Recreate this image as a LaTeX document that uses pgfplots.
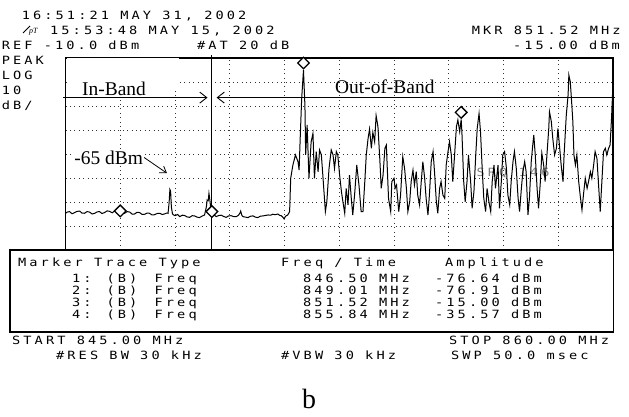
\documentclass[border=0pt]{standalone}
\usepackage{pgfplots}
\pgfplotsset{compat=1.18}
\usepackage{fontspec}
\setmainfont{Liberation Serif}
\newfontfamily\hp{DejaVu Sans Mono}[LetterSpace=27,FakeStretch=1.2]
\usetikzlibrary{arrows.meta}
\newcommand\T[3]{\node[anchor=base west,inner sep=0pt,font=\hp\fontsize{11.4}{12}\selectfont] at ({#1bp},{417bp-#2bp}) {#3};}
\begin{document}
\begin{tikzpicture}
\path[use as bounding box] (0bp,0bp) rectangle (629bp,417bp);
% header
\T{21.7}{20}{16:51:21 MAY 31, 2002}
\draw[line width=0.8bp] (23bp,384bp) -- (30bp,391bp);
\node[anchor=base west,inner sep=0pt] at (29bp,383bp) {\fontsize{8}{8}\selectfont\textit{pT}};
\T{50}{35}{15:53:48 MAY 15, 2002}
\T{1.7}{50}{REF -10.0 dBm}
\T{197}{50}{\#AT 20 dB}
\T{471.7}{35}{MKR 851.52 MHz}
\T{513}{50}{-15.00 dBm}
\T{1.7}{65}{PEAK}
\T{1.7}{80}{LOG}
\T{1.7}{95}{10}
\T{1.7}{110}{dB/}
\begin{axis}[at={(65.5bp,167bp)}, anchor=south west, width=547.5bp, height=192bp,
  scale only axis, xmin=845, xmax=860, ymin=-90, ymax=-10,
  xtick={846.5,848,849.5,851,852.5,854,855.5,857,858.5},
  ytick={-80,-70,-60,-50,-40,-30,-20},
  xticklabels={}, yticklabels={}, major tick length=0pt,
  grid=major, major grid style={black!80, line width=0.8bp, dash pattern=on 0.8bp off 3.6bp},
  axis line style={line width=1.3bp}, clip=false]
\fill[white] (axis cs:845.03,-10.1) rectangle (axis cs:848.1,-22.5);
\fill[white] (axis cs:845.03,-22.5) rectangle (axis cs:847.85,-26.2);
\node[anchor=base west,inner sep=0pt,text=black!50,font=\hp\fontsize{11.4}{12}\selectfont] at (axis cs:856.26,-59.2) {SRQ 146};
\addplot[black, line width=1bp] coordinates {
(845.00,-74.7) (845.05,-74.2) (845.11,-74.0) (845.18,-74.9) (845.25,-74.4) (845.32,-73.9)
(845.39,-73.8) (845.45,-74.6) (845.52,-74.7) (845.59,-74.0) (845.66,-74.2) (845.73,-75.0)
(845.80,-74.7) (845.87,-74.1) (845.93,-74.0) (846.00,-74.8) (846.07,-74.4) (846.14,-73.7)
(846.21,-73.9) (846.28,-74.5) (846.34,-73.8) (846.41,-73.3) (846.48,-74.0) (846.55,-74.6)
(846.62,-74.7) (846.69,-74.0) (846.76,-74.2) (846.83,-75.1) (846.89,-75.0) (846.96,-74.3)
(847.03,-74.4) (847.10,-75.2) (847.17,-75.1) (847.24,-74.6) (847.30,-74.7) (847.37,-75.4)
(847.44,-75.3) (847.51,-74.8) (847.58,-74.7) (847.65,-75.2) (847.71,-75.0) (847.77,-74.6)
(847.81,-74.7) (847.84,-70.0) (847.86,-64.8) (847.88,-65.5) (847.90,-72.0) (847.93,-74.9)
(847.96,-75.4) (848.00,-75.7) (848.07,-75.2) (848.13,-76.1) (848.20,-75.5) (848.26,-75.6)
(848.33,-76.2) (848.40,-76.4) (848.47,-75.7) (848.54,-75.8) (848.60,-76.3) (848.67,-76.5)
(848.74,-75.9) (848.81,-75.4) (848.86,-72.0) (848.88,-69.2) (848.91,-69.5) (848.93,-66.4)
(848.95,-68.5) (848.97,-71.2) (848.99,-74.0) (849.03,-75.6) (849.07,-75.4) (849.13,-76.1)
(849.20,-75.6) (849.27,-75.5) (849.33,-76.0) (849.40,-76.4) (849.47,-75.8) (849.54,-75.7)
(849.61,-76.1) (849.68,-76.1) (849.74,-75.5) (849.78,-74.6) (849.80,-73.8) (849.83,-75.5)
(849.86,-76.1) (849.93,-76.3) (850.00,-76.5) (850.07,-75.9) (850.14,-75.8) (850.20,-76.3)
(850.27,-76.5) (850.34,-75.9) (850.41,-75.8) (850.48,-75.6) (850.55,-75.4) (850.62,-75.5)
(850.68,-75.1) (850.75,-75.3) (850.82,-75.0) (850.87,-75.6) (850.91,-75.7) (850.96,-76.4)
(850.99,-77.1) (851.03,-75.9) (851.09,-75.4) (851.14,-74.0)
(851.17,-60.1) (851.23,-54.6) (851.30,-50.4) (851.37,-53.2) (851.40,-56.7) (851.43,-43.5)
(851.47,-27.0) (851.52,-15.0) (851.56,-30.0) (851.58,-50.4) (851.62,-37.9) (851.67,-60.1)
(851.73,-44.9) (851.78,-41.4) (851.82,-60.1) (851.87,-49.0) (851.92,-57.4) (851.96,-48.3)
(852.01,-50.4) (852.05,-58.8) (852.12,-74.0) (852.16,-69.9) (852.22,-56.0) (852.28,-48.3)
(852.33,-50.4) (852.37,-56.0) (852.42,-49.0) (852.46,-50.4) (852.51,-58.8) (852.56,-65.7)
(852.60,-69.9) (852.65,-74.7) (852.69,-64.3) (852.74,-71.2) (852.78,-58.8) (852.83,-68.5)
(852.87,-75.4) (852.92,-67.1) (852.98,-54.6) (853.04,-62.9) (853.10,-74.0) (853.15,-74.0)
(853.20,-61.5) (853.24,-50.4) (853.29,-43.5) (853.33,-39.6) (853.38,-47.6) (853.42,-41.0)
(853.47,-44.9) (853.51,-34.0) (853.56,-38.6) (853.61,-51.8) (853.65,-64.3) (853.70,-58.8)
(853.75,-47.6) (853.79,-46.3) (853.85,-68.5) (853.91,-74.0) (853.94,-61.5) (854.00,-60.1)
(854.03,-64.3) (854.07,-62.9) (854.13,-74.0) (854.18,-67.1) (854.24,-51.1) (854.29,-56.0)
(854.34,-64.3) (854.38,-74.0) (854.43,-69.9) (854.47,-61.5) (854.52,-56.7) (854.56,-62.9)
(854.61,-57.4) (854.65,-67.1) (854.70,-71.2) (854.75,-60.8) (854.79,-53.2) (854.84,-60.1)
(854.88,-68.5) (854.93,-75.4) (854.97,-67.1) (855.02,-53.2) (855.07,-49.0) (855.11,-57.4)
(855.16,-69.9) (855.20,-74.7) (855.25,-64.3) (855.29,-61.5) (855.34,-67.1) (855.39,-68.5)
(855.43,-54.6) (855.48,-49.0) (855.52,-44.9) (855.57,-50.4) (855.61,-61.5) (855.66,-50.4)
(855.71,-38.6) (855.75,-35.8) (855.80,-40.7) (855.84,-35.6) (855.86,-40.7) (855.91,-61.5)
(855.95,-69.9) (856.00,-61.5) (856.04,-50.4) (856.10,-61.5) (856.14,-72.6) (856.19,-65.7)
(856.24,-50.4) (856.28,-39.3) (856.33,-33.1) (856.37,-40.7) (856.42,-57.4) (856.46,-68.5)
(856.51,-74.0) (856.55,-64.3) (856.60,-69.9) (856.65,-74.0) (856.69,-61.5) (856.74,-54.6)
(856.78,-64.3) (856.80,-61.5) (856.85,-54.6) (856.89,-72.6) (856.94,-61.5) (856.98,-50.4)
(857.03,-49.0) (857.08,-56.0) (857.12,-67.1) (857.17,-71.2) (857.21,-61.5) (857.26,-53.2)
(857.30,-49.0) (857.35,-56.0) (857.40,-68.5) (857.44,-74.0) (857.49,-64.3) (857.53,-57.4)
(857.58,-53.2) (857.62,-57.4) (857.67,-75.4) (857.71,-68.5) (857.76,-53.2) (857.81,-44.9)
(857.83,-42.1) (857.87,-50.4) (857.92,-64.3) (857.96,-72.6) (858.01,-61.5) (858.05,-49.7)
(858.10,-54.6) (858.14,-61.5) (858.19,-50.4) (858.24,-39.3) (858.26,-32.4) (858.31,-36.5)
(858.35,-43.5) (858.40,-50.4) (858.45,-47.6) (858.49,-39.3) (858.54,-47.6) (858.58,-54.6)
(858.63,-61.5) (858.66,-50.4) (858.69,-42.1) (858.72,-33.8) (858.77,-25.4) (858.79,-17.1)
(858.83,-19.9) (858.86,-26.8) (858.90,-36.5) (858.93,-50.4) (858.97,-54.6) (859.01,-50.4)
(859.06,-61.5) (859.10,-67.1) (859.15,-73.3) (859.19,-67.1) (859.24,-60.1) (859.29,-64.3)
(859.33,-61.5) (859.38,-57.4) (859.42,-60.1) (859.47,-54.6) (859.51,-49.0) (859.56,-51.8)
(859.61,-64.3) (859.65,-74.0) (859.70,-60.1) (859.74,-49.0) (859.79,-47.6) (859.83,-50.4)
(859.88,-47.6) (859.92,-46.3) (859.96,-35.0) (860.00,-20.4)
};
\draw[line width=1bp] (axis cs:849.0,-8.75) -- (axis cs:849.0,-90);
\draw[line width=0.9bp,-{Straight Barb[length=7bp,width=11bp]}] (axis cs:844.93,-26.5) -- (axis cs:848.89,-26.5);
\draw[line width=0.9bp,-{Straight Barb[length=7bp,width=11bp]}] (axis cs:860.05,-26.5) -- (axis cs:849.14,-26.5);
\draw[line width=0.8bp,-{Straight Barb[length=6bp,width=8bp]}] (axis cs:847.12,-51.1) -- (axis cs:847.78,-58.0);
\addplot[only marks, mark=square*, mark size=4.1bp, mark options={yshift=7bp, rotate=45, fill=white, draw=black, line width=1.3bp}] coordinates {(846.50,-76.64) (849.01,-76.91) (851.52,-15.00) (855.84,-35.57)};
\end{axis}
\node[anchor=base west,inner sep=0pt,font=\fontsize{19.5}{20}\selectfont] at (82bp,321bp) {In-Band};
\node[anchor=base west,inner sep=0pt,font=\fontsize{19.5}{20}\selectfont] at (335bp,323.7bp) {Out-of-Band};
\node[anchor=base west,inner sep=1pt,fill=white,font=\fontsize{19.5}{20}\selectfont] at (73.3bp,252bp) {-65 dBm};
% table
\draw[line width=1.3bp] (10bp,167bp) rectangle (613.5bp,85bp);
\T{18}{267}{Marker Trace Type}
\T{281}{267}{Freq / Time}
\T{445}{267}{Amplitude}
\T{72}{283}{1: (B)}  \T{154.5}{283}{Freq} \T{303}{283}{846.50 MHz} \T{435}{283}{-76.64 dBm}
\T{72}{295}{2: (B)}  \T{154.5}{295}{Freq} \T{303}{295}{849.01 MHz} \T{435}{295}{-76.91 dBm}
\T{72}{307}{3: (B)}  \T{154.5}{307}{Freq} \T{303}{307}{851.52 MHz} \T{435}{307}{-15.00 dBm}
\T{72}{319}{4: (B)}  \T{154.5}{319}{Freq} \T{303}{319}{855.84 MHz} \T{435}{319}{-35.57 dBm}
\T{12}{345}{START 845.00 MHz}
\T{449}{345}{STOP 860.00 MHz}
\T{56}{360}{\#RES BW 30 kHz}
\T{281}{360}{\#VBW 30 kHz}
\T{451}{360}{SWP 50.0 msec}
\node[anchor=base,inner sep=0pt,font=\fontsize{28}{30}\selectfont] at (309bp,9bp) {b};
\end{tikzpicture}
\end{document}
